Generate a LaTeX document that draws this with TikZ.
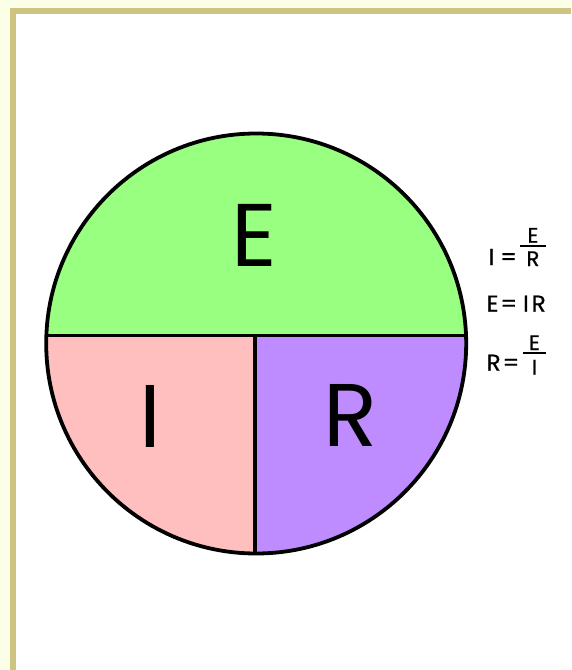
\documentclass[tikz,border=0pt]{standalone}
\usepackage{fontspec}
\setmainfont{Poppins}
\newfontfamily\eqfont[FakeBold=0.7]{Poppins}
\usepackage{xcolor}
\definecolor{paleyellow}{RGB}{251,255,232}
\definecolor{framekhaki}{RGB}{204,196,128}
\definecolor{voltgreen}{RGB}{153,255,128}
\definecolor{currentpink}{RGB}{255,191,191}
\definecolor{resistpurple}{RGB}{191,140,255}

\begin{document}
\begin{tikzpicture}[x=1pt, y=-1pt,
    bigletter/.style={inner sep=0pt, font=\fontsize{89}{89}\selectfont},
    formula/.style={inner sep=0pt, anchor=base west, font=\fontsize{23}{23}\selectfont\eqfont},
    fracpart/.style={inner sep=0pt, anchor=base, font=\fontsize{21}{21}\selectfont\eqfont},
    fracbar/.style={line width=1.8pt},
    divider/.style={line width=3.8pt, line cap=butt}
]
\useasboundingbox (0,0) rectangle (571,670);
% page and frame
\fill[paleyellow] (0,0) rectangle (571,670);
\fill[framekhaki] (10,8) rectangle (571,670);
\fill[white] (15.5,14) rectangle (571,670);

\coordinate (o) at (256.2,343.5);
\coordinate (hl) at (40,335.5);
\coordinate (hr) at (475,335.5);
\coordinate (vt) at (254.7,335.5);
\coordinate (vb) at (254.7,560);

% coloured parts
\begin{scope}
  \clip (o) circle[radius=210pt];
  \fill[voltgreen] (40,120) rectangle (hr);
  \fill[currentpink] (hl) rectangle (vb);
  \fill[resistpurple] (vt) rectangle (475,560);
\end{scope}
\begin{scope}
  \clip (o) circle[radius=210pt];
  \draw[divider] (hl) -- (hr);
  \draw[divider] (vt) -- (vb);
\end{scope}
\draw[line width=3.8pt] (o) circle[radius=210pt];

% letters
\node[bigletter] (volt) at (254,235.3) {E};
\node[bigletter] (amp) at (150.5,416) {I};
\node[bigletter] (ohm) at (351,415) {R};

% formulas
\node[formula] (lhsI) at (488.5,265) {I\kern6pt{}=};
\node[fracpart] (numI) at (533,242.7) {E};
\node[fracpart] (denI) at (533,266) {R};
\draw[fracbar] (520,246.3) -- (546,246.3);

\node[formula] (lhsE) at (486.5,311.7) {E\kern2pt{}=\kern6pt{}I\kern3pt{}R};

\node[formula] (lhsR) at (486.5,370.7) {R\kern2pt{}=};
\node[fracpart] (numR) at (534.5,350) {E};
\node[fracpart] (denR) at (534.5,374.5) {I};
\draw[fracbar] (523,353) -- (546,353);
\end{tikzpicture}
\end{document}
